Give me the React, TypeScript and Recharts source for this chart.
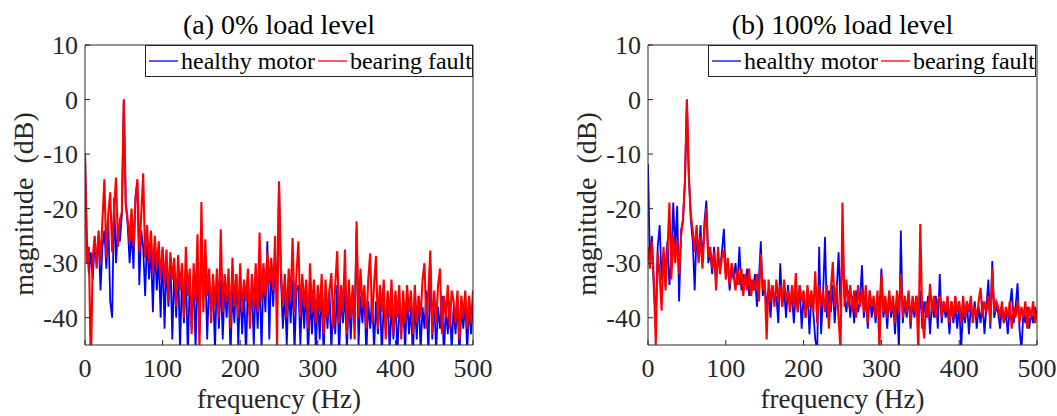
import React from "react";
import { Legend, Line, LineChart, XAxis, YAxis } from "recharts";

// spectra sampled every 2.5 Hz from 0 to 500 Hz (201 points), values in dB
const STEP_HZ = 2.5;

const healthy0 = [
  -10, -26, -32, -28, -33, -26, -30, -25, -35, -27,
  -24, -31, -22, -37, -40, -18, -30, -23, -26, -21,
  0, -19, -23, -30, -24, -31, -17.7, -15, -34, -24,
  -27, -36, -25, -33, -27, -39, -26, -35, -29, -40,
  -27.5, -42, -30, -38, -29, -44, -31, -40, -30, -46,
  -32, -41, -31, -47, -33, -42, -32, -46, -30, -43,
  -29, -36, -31, -44, -33, -39, -34, -46, -32, -42,
  -33, -44, -34, -40, -33, -47, -35, -41, -32, -45,
  -34, -43, -35, -47, -33, -40, -34, -45, -33, -42,
  -32, -46, -31, -39, -26, -44, -30, -38, -29, -36,
  -15.2, -33, -42, -35, -45, -34, -41, -33, -46, -35,
  -34, -45, -35, -42, -34, -47, -36, -43, -35, -46,
  -36, -44, -34, -47, -36, -42, -35, -46, -37, -43,
  -34, -47, -36, -41, -35, -46, -36, -44, -35, -40,
  -24, -45, -36, -41, -35, -47, -37, -42, -36, -46,
  -37, -43, -35, -47, -37, -42, -36, -46, -38, -44,
  -36, -47, -38, -42, -37, -46, -36, -43, -38, -47,
  -37, -44, -36, -46, -38, -42, -35, -47, -30, -44,
  -37, -46, -38, -42, -36, -47, -38, -43, -37, -46,
  -38, -43, -37, -47, -38, -42, -37, -46, -38, -43,
  -37,
];

const fault0 = [
  -10, -30, -27, -50, -29, -25, -31, -24, -30, -22,
  -14.6, -29, -21, -17, -28, -20, -14.3, -27, -22, -20.7,
  0, -19, -22, -26, -20, -27, -19, -14.6, -28, -21,
  -13.5, -29, -23, -30, -24, -32, -25, -31, -26, -33,
  -27, -34, -27.5, -37, -28, -33, -29, -38, -28.5, -35,
  -30, -40, -27, -36, -31, -43, -30, -37, -24.7, -46,
  -18.8, -39, -25.6, -36, -31, -41, -32, -38, -31, -40,
  -23.8, -39, -32, -37, -31, -42, -29, -38, -32, -40,
  -30, -39, -33, -37, -31, -42, -32, -38, -30, -39,
  -24.4, -37, -30, -36, -28, -34, -29, -35, -25, -45,
  -15, -31, -38, -32, -40, -31, -37, -25.4, -39, -32,
  -26, -40, -32, -38, -33, -42, -30, -39, -33, -41,
  -34, -39, -32, -43, -33, -40, -35, -31.8, -42, -34,
  -27.8, -41, -34, -39, -27.5, -43, -33, -40, -34, -44,
  -22.3, -40, -31, -38, -34, -42, -33, -28.2, -41, -34,
  -28.7, -42, -34, -39, -33, -44, -35, -40, -33, -43,
  -35, -40, -34, -44, -35, -41, -34, -39, -35, -43,
  -34, -41, -36, -40, -33, -30, -42, -35, -27.7, -43,
  -35, -41, -34, -31, -43, -36, -40, -34, -42, -35,
  -37, -41, -35, -44, -36, -40, -35, -42, -36, -41,
  -35,
];

const healthy100 = [
  -11.8, -30, -25, -35, -40, -27, -23, -33, -28, -31,
  -26, -34, -29, -18.9, -28, -19.5, -37, -24, -22, -15,
  0, -14, -22, -26, -35, -24, -29, -23, -30, -22.5,
  -18.5, -30, -28, -32, -27, -33, -29, -31, -28, -23.7,
  -32, -30, -35, -31, -33, -30, -34, -27, -35, -32,
  -34, -31, -36, -33, -35, -32, -38, -33, -26, -36,
  -34, -38, -35, -40, -34, -37, -36, -41, -30, -38,
  -35, -40, -34, -38, -36, -41, -35, -39, -34, -42,
  -36, -40, -35, -43, -36, -39, -44, -46, -27, -43,
  -36, -25.2, -40, -35, -39, -34, -41, -35, -28, -38,
  -27, -36, -39, -35, -40, -36, -41, -35, -39, -37,
  -30.4, -40, -36, -42, -35, -40, -37, -41, -36, -39,
  -31, -40, -37, -42, -36, -40, -37, -43, -36, -46,
  -24, -41, -37, -40, -36, -42, -37, -40, -36, -41,
  -35, -42, -37, -40, -36, -43, -37, -40, -36, -42,
  -32, -41, -37, -40, -38, -43, -37, -41, -38, -42,
  -37, -46, -38, -41, -37, -43, -38, -40, -37, -42,
  -38, -41, -37, -43, -38, -33, -42, -29.6, -40, -38,
  -39, -42, -38, -41, -39, -43, -38, -34.6, -41, -38,
  -33.7, -42, -46, -39, -41, -38, -42, -39, -41, -38,
  -40,
];

const fault100 = [
  -27, -31, -26, -33, -45, -28, -32, -38.7, -27, -35,
  -28, -18.9, -33, -25, -30, -26, -32, -25, -22, -15,
  0, -14, -21, -24, -28, -23, -30, -25, -31, -24,
  -20, -29, -27, -31, -28, -35, -27, -32, -29, -27.6,
  -33, -29, -34, -30, -32, -35, -31, -34, -31, -36,
  -32, -35, -31, -36, -33, -35, -32, -37, -28.3, -35,
  -33, -44, -33, -37, -34, -38, -33, -37, -34, -38,
  -33, -37, -35, -39, -34, -38, -31.8, -39, -34, -37,
  -35, -40, -34, -38, -35, -39, -31.5, -41, -34, -38,
  -35, -39, -34, -42, -35, -29.8, -38, -34, -40, -46,
  -18.9, -38, -33, -38, -34, -39, -35, -40, -34, -38,
  -35, -39, -34, -41, -35, -38, -36, -40, -35, -46,
  -32, -39, -36, -40, -35, -39, -36, -41, -35, -39,
  -32, -40, -36, -39, -35, -41, -36, -39, -36, -46,
  -22.8, -40, -43.8, -37, -40, -33.8, -39, -36, -40, -37,
  -36, -40, -37, -39, -36, -41, -37, -40, -36, -39,
  -37, -41, -36, -40, -37, -39, -36, -41, -38, -40,
  -37, -34.5, -40, -37, -39, -36, -41, -31, -39, -37,
  -38, -40, -37, -41, -38, -40, -37, -42, -38, -40,
  -37, -41, -38, -40, -37, -42, -38, -40, -37, -41,
  -39,
];

const FREQ_TICKS = [0, 100, 200, 300, 400, 500];
const DB_TICKS = [-40, -30, -20, -10, 0, 10];

const SERIES = [
  { key: "healthy", name: "healthy motor", color: "#0000ff", width: 1.8 },
  { key: "fault", name: "bearing fault", color: "#ff0000", width: 2.1 },
];

const SERIF = '"Liberation Serif", "Times New Roman", serif';
const AXIS = "#262626";

const toRows = (healthy: number[], fault: number[]) =>
  healthy.map((h, i) => ({ freq: i * STEP_HZ, healthy: h, fault: fault[i] }));

const VerticalTitle = ({ text, cx, cy }: { text: string; cx: number; cy: number }) => (
  <text
    x={cx}
    y={cy}
    transform={`rotate(-90 ${cx} ${cy})`}
    textAnchor="middle"
    fill={AXIS}
    fontSize={28}
    fontFamily={SERIF}
    style={{ whiteSpace: "pre" }}
  >
    {text}
  </text>
);

// MATLAB-style boxed legend, entries in series order
const LegendBox = () => (
  <div
    style={{
      width: 328,
      height: 32,
      boxSizing: "border-box",
      border: `1px solid ${AXIS}`,
      background: "#fff",
      display: "flex",
      alignItems: "center",
      fontFamily: SERIF,
      fontSize: 24,
      color: "#000",
      whiteSpace: "nowrap",
    }}
  >
    {SERIES.map((s) => (
      <span key={s.key} style={{ display: "inline-flex", alignItems: "center" }}>
        <svg width={35} height={6} style={{ display: "block" }}>
          <line x1={3} y1={3} x2={32} y2={3} stroke={s.color} strokeWidth={1.3} />
        </svg>
        {s.name}
      </span>
    ))}
  </div>
);

const SpectrumPanel = ({
  title,
  healthy,
  fault,
  width,
  plotWidth,
}: {
  title: string;
  healthy: number[];
  fault: number[];
  width: number;
  plotWidth: number;
}) => {
  const rows = toRows(healthy, fault);
  return (
    <LineChart
      width={width}
      height={416}
      data={rows}
      margin={{ top: 44, right: width - 85 - plotWidth - 1, bottom: 0, left: 0 }}
    >
      <XAxis
        xAxisId="bottom"
        dataKey="freq"
        type="number"
        domain={[0, 500]}
        ticks={FREQ_TICKS}
        interval={0}
        allowDataOverflow
        height={71}
        tickSize={-5}
        tickMargin={19}
        stroke={AXIS}
        tick={{ fill: AXIS, fontSize: 26, fontFamily: SERIF }}
        label={{
          value: "frequency (Hz)",
          position: "insideBottom",
          offset: 8,
          fill: AXIS,
          fontSize: 27,
          fontFamily: SERIF,
        }}
      />
      <XAxis
        xAxisId="top"
        orientation="top"
        dataKey="freq"
        type="number"
        domain={[0, 500]}
        ticks={FREQ_TICKS}
        interval={0}
        allowDataOverflow
        height={1}
        tick={false}
        tickSize={-5}
        stroke={AXIS}
        label={{ value: title, position: "top", offset: 10, fill: "#000", fontSize: 28, fontFamily: SERIF }}
      />
      <YAxis
        yAxisId="left"
        type="number"
        domain={[-45, 10]}
        ticks={DB_TICKS}
        interval={0}
        allowDataOverflow
        width={85}
        tickSize={-5}
        tickMargin={12}
        stroke={AXIS}
        tick={{ fill: AXIS, fontSize: 26, fontFamily: SERIF }}
        label={<VerticalTitle text="magnitude  (dB)" cx={33} cy={204} />}
      />
      <YAxis
        yAxisId="right"
        orientation="right"
        type="number"
        domain={[-45, 10]}
        ticks={DB_TICKS}
        interval={0}
        allowDataOverflow
        width={1}
        tick={false}
        tickSize={-5}
        stroke={AXIS}
      />
      <Legend
        layout="horizontal"
        verticalAlign="middle"
        align="center"
        wrapperStyle={{ left: 145, top: 45, width: 328, height: 32 }}
        content={<LegendBox />}
      />
      {SERIES.map((s) => (
        <Line
          key={s.key}
          xAxisId="bottom"
          yAxisId="left"
          type="linear"
          dataKey={s.key}
          name={s.name}
          stroke={s.color}
          strokeWidth={s.width}
          dot={false}
          isAnimationActive={false}
        />
      ))}
    </LineChart>
  );
};

export default function App() {
  return (
    <div style={{ position: "absolute", left: 0, top: 0, width: 1057, height: 416, background: "#fff" }}>
      <div style={{ position: "absolute", left: 0, top: 0 }}>
        <SpectrumPanel title="(a) 0% load level" healthy={healthy0} fault={fault0} width={530} plotWidth={388} />
      </div>
      <div style={{ position: "absolute", left: 563, top: 0 }}>
        <SpectrumPanel title="(b) 100% load level" healthy={healthy100} fault={fault100} width={494} plotWidth={389} />
      </div>
    </div>
  );
}
